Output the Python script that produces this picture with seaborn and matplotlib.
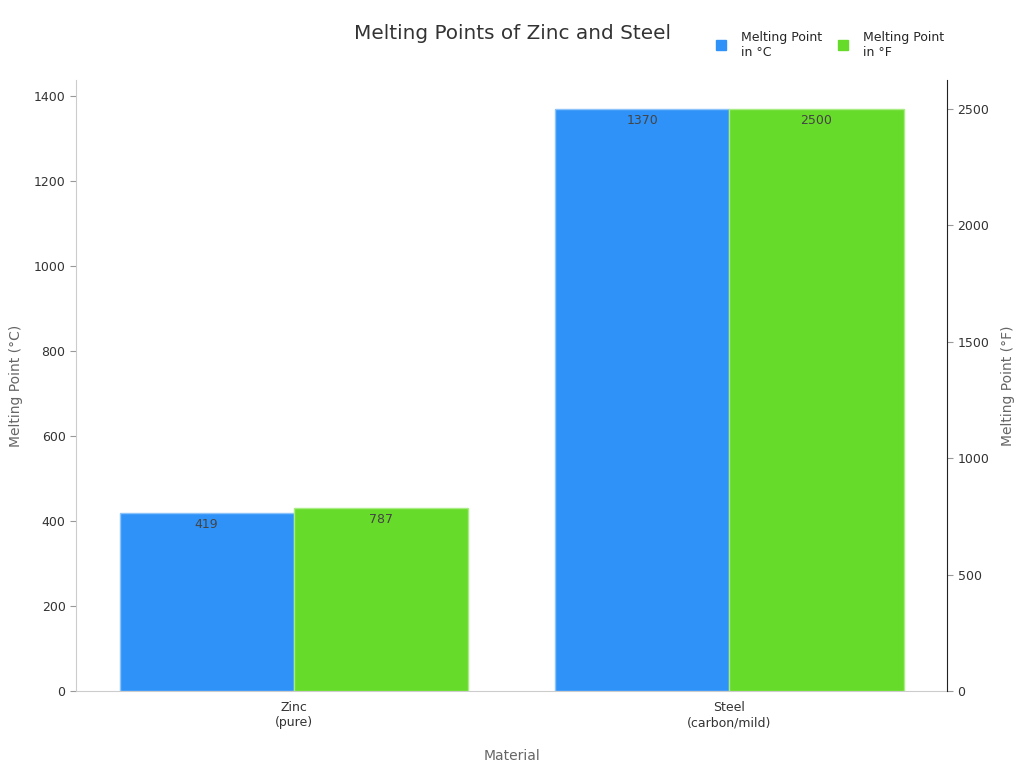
import matplotlib
matplotlib.use('Agg')
import matplotlib.pyplot as plt
import matplotlib.patches as mpatches
import seaborn as sns
import pandas as pd

materials = ['Zinc\n(pure)', 'Steel\n(carbon/mild)']
melt_c = [419, 1370]
melt_f = [787, 2500]
series = ['Melting Point\nin °C', 'Melting Point\nin °F']
colors = {series[0]: '#2f92f8', series[1]: '#67db29'}
edges = ['#8cc3fb', '#a8ec84']

df = pd.concat([
    pd.DataFrame({'Material': materials, 'Value': melt_c, 'Series': series[0]}),
    pd.DataFrame({'Material': materials, 'Value': melt_f, 'Series': series[1]}),
], ignore_index=True)

sns.set_style('white')
plt.rcParams['font.family'] = ['DejaVu Sans']

fig = plt.figure(figsize=(10.24, 7.68), dpi=100)
ax = fig.add_axes([0.0742, 0.1003, 0.8508, 0.7957])
ax2 = ax.twinx()

# same grouped chart on both axes, each axis keeps only its own unit
for i, a in enumerate((ax, ax2)):
    sns.barplot(data=df, x='Material', y='Value', hue='Series', hue_order=series,
                palette=colors, order=materials, width=0.8, ax=a, legend=False,
                saturation=1, linewidth=1)
    for j, c in enumerate(a.containers):
        for p in c.patches:
            p.set_edgecolor(edges[j])
            if j != i:
                p.set_visible(False)
    c = a.containers[i]
    a.bar_label(c, labels=[f'{v:.0f}' for v in c.datavalues], padding=-13,
                fontsize=9, color='#444444')

ax.set_xlim(-0.5, 1.5)
ax.set_ylim(0, 1438.5)
ax2.set_ylim(0, 2625)
ax.set_yticks(range(0, 1401, 200))
ax2.set_yticks(range(0, 2501, 500))

ax.set_xlabel('Material', fontsize=10, color='#666666', labelpad=14)
ax.set_ylabel('Melting Point (°C)', fontsize=10, color='#666666', labelpad=8)
ax2.set_ylabel('Melting Point (°F)', fontsize=10, color='#666666', labelpad=8)
ax2.set_xlabel('')

for a in (ax, ax2):
    a.spines['top'].set_visible(False)
ax.spines['left'].set_color('#cccccc')
ax.spines['bottom'].set_color('#cccccc')
ax.spines['right'].set_visible(False)
ax2.spines['left'].set_visible(False)
ax2.spines['bottom'].set_visible(False)
ax2.spines['right'].set_color('#222222')

ax.tick_params(axis='y', labelsize=9, colors='#333333', length=4, color='#999999')
ax.tick_params(axis='x', labelsize=9, colors='#333333', length=4, color='#333333')
ax2.tick_params(axis='y', labelsize=9, colors='#333333', length=4, color='#999999')

fig.text(0.5, 0.957, 'Melting Points of Zinc and Steel', ha='center', va='center',
         fontsize=14.4, color='#333333')

handles = [mpatches.Patch(color=colors[s], label=s) for s in series]
fig.legend(handles=handles, loc='center left', bbox_to_anchor=(0.688, 0.942), ncol=2,
           frameon=False, fontsize=9, handlelength=0.8, handleheight=0.8,
           columnspacing=1.3, handletextpad=1.2)

fig.savefig('out.png', dpi=100)
